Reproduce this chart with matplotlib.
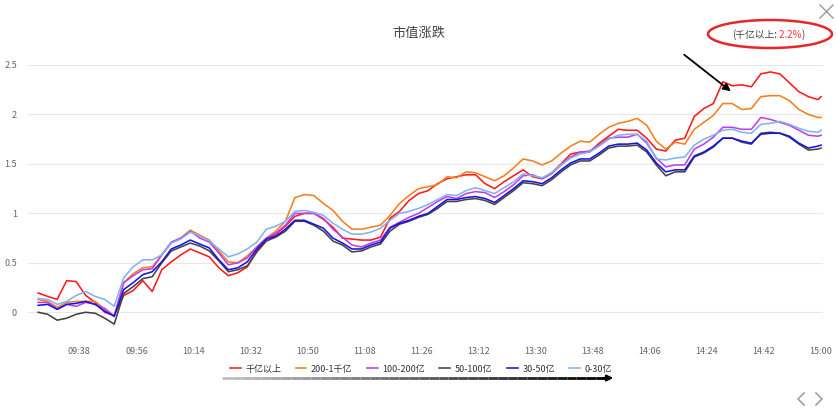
import numpy as np
import matplotlib
matplotlib.use('Agg')
from matplotlib import pyplot as plt
from matplotlib.patches import Ellipse, FancyArrowPatch
from matplotlib.lines import Line2D
from matplotlib.collections import LineCollection

plt.rcParams['font.family'] = ['Noto Sans CJK SC', 'DejaVu Sans']

# minute slots on the category axis, sampled every 3 minutes
n_minutes = 248
sample_idx = list(range(0, n_minutes - 1, 3)) + [n_minutes - 1]

tick_labels = ['09:38', '09:56', '10:14', '10:32', '10:50', '11:08', '11:26',
               '13:12', '13:30', '13:48', '14:06', '14:24', '14:42', '15:00']
first_tick = 13
tick_step = 18

series_names = ['千亿以上', '200-1千亿', '100-200亿', '50-100亿', '30-50亿', '0-30亿']
series_colors = ['#ff1a1a', '#f57f20', '#c03ee8', '#444444', '#1414e6', '#80b4ee']

big = [0.195, 0.16, 0.13, 0.32, 0.31, 0.17, 0.10, 0.00, -0.03, 0.17,
       0.22, 0.32, 0.21, 0.43, 0.51, 0.58, 0.64, 0.60, 0.56, 0.45,
       0.37, 0.40, 0.46, 0.62, 0.74, 0.79, 0.87, 0.97, 1.00, 1.00,
       0.94, 0.86, 0.75, 0.74, 0.73, 0.73, 0.76, 0.95, 1.02, 1.13,
       1.20, 1.23, 1.30, 1.35, 1.37, 1.39, 1.39, 1.30, 1.25, 1.32,
       1.38, 1.44, 1.37, 1.35, 1.41, 1.50, 1.60, 1.62, 1.62, 1.71,
       1.78, 1.85, 1.84, 1.84, 1.76, 1.65, 1.63, 1.74, 1.76, 1.98,
       2.06, 2.11, 2.33, 2.29, 2.30, 2.28, 2.41, 2.43, 2.41, 2.32,
       2.23, 2.18, 2.15, 2.18]

cap_200_1000 = [0.13, 0.11, 0.05, 0.10, 0.11, 0.11, 0.11, 0.03, -0.04, 0.30,
                0.39, 0.45, 0.46, 0.58, 0.70, 0.75, 0.83, 0.78, 0.73, 0.62,
                0.51, 0.50, 0.57, 0.66, 0.75, 0.82, 0.92, 1.16, 1.19, 1.18,
                1.10, 1.03, 0.92, 0.84, 0.84, 0.86, 0.88, 0.98, 1.10, 1.18,
                1.25, 1.27, 1.29, 1.37, 1.36, 1.42, 1.41, 1.37, 1.33, 1.38,
                1.46, 1.55, 1.53, 1.49, 1.53, 1.61, 1.68, 1.73, 1.72, 1.80,
                1.87, 1.91, 1.93, 1.96, 1.89, 1.73, 1.65, 1.72, 1.70, 1.85,
                1.92, 1.99, 2.11, 2.11, 2.05, 2.06, 2.18, 2.19, 2.19, 2.14,
                2.05, 2.00, 1.97, 1.97]

cap_100_200 = [0.10, 0.10, 0.03, 0.08, 0.06, 0.10, 0.08, 0.04, -0.04, 0.30,
               0.37, 0.43, 0.44, 0.58, 0.71, 0.75, 0.82, 0.75, 0.71, 0.60,
               0.48, 0.50, 0.55, 0.66, 0.75, 0.80, 0.88, 1.00, 1.00, 1.00,
               0.95, 0.84, 0.76, 0.68, 0.66, 0.70, 0.73, 0.86, 0.91, 0.96,
               1.00, 1.06, 1.12, 1.17, 1.15, 1.20, 1.22, 1.21, 1.16, 1.22,
               1.29, 1.38, 1.39, 1.35, 1.40, 1.49, 1.57, 1.62, 1.63, 1.69,
               1.76, 1.77, 1.77, 1.80, 1.71, 1.56, 1.47, 1.49, 1.49, 1.65,
               1.70, 1.77, 1.87, 1.87, 1.85, 1.85, 1.97, 1.95, 1.92, 1.89,
               1.84, 1.79, 1.78, 1.79]

cap_50_100 = [0.00, -0.02, -0.08, -0.06, -0.02, 0.00, -0.01, -0.06, -0.12, 0.19,
              0.26, 0.34, 0.36, 0.50, 0.62, 0.66, 0.70, 0.67, 0.62, 0.52,
              0.41, 0.43, 0.47, 0.61, 0.72, 0.76, 0.82, 0.92, 0.92, 0.88,
              0.82, 0.72, 0.68, 0.61, 0.62, 0.66, 0.69, 0.82, 0.89, 0.92,
              0.96, 0.99, 1.05, 1.12, 1.12, 1.14, 1.15, 1.13, 1.09, 1.16,
              1.23, 1.31, 1.30, 1.28, 1.34, 1.42, 1.49, 1.53, 1.53, 1.59,
              1.66, 1.68, 1.68, 1.69, 1.62, 1.49, 1.38, 1.42, 1.42, 1.57,
              1.61, 1.67, 1.76, 1.76, 1.72, 1.70, 1.81, 1.82, 1.81, 1.77,
              1.70, 1.64, 1.65, 1.66]

cap_30_50 = [0.07, 0.08, 0.03, 0.08, 0.09, 0.11, 0.08, 0.01, -0.04, 0.23,
             0.30, 0.38, 0.41, 0.51, 0.64, 0.68, 0.73, 0.69, 0.65, 0.53,
             0.43, 0.45, 0.51, 0.64, 0.74, 0.77, 0.84, 0.93, 0.93, 0.89,
             0.85, 0.75, 0.70, 0.64, 0.64, 0.68, 0.71, 0.85, 0.90, 0.93,
             0.97, 1.00, 1.07, 1.14, 1.14, 1.16, 1.17, 1.15, 1.11, 1.18,
             1.25, 1.33, 1.32, 1.30, 1.36, 1.44, 1.51, 1.55, 1.55, 1.61,
             1.68, 1.70, 1.70, 1.71, 1.64, 1.51, 1.42, 1.44, 1.44, 1.58,
             1.62, 1.68, 1.76, 1.76, 1.73, 1.71, 1.80, 1.81, 1.81, 1.78,
             1.71, 1.66, 1.68, 1.69]

cap_0_30 = [0.14, 0.13, 0.08, 0.11, 0.17, 0.21, 0.16, 0.13, 0.06, 0.35,
            0.46, 0.53, 0.53, 0.58, 0.70, 0.74, 0.81, 0.77, 0.72, 0.64,
            0.56, 0.59, 0.64, 0.71, 0.84, 0.87, 0.92, 1.02, 1.03, 1.01,
            0.98, 0.90, 0.84, 0.79, 0.79, 0.81, 0.85, 0.93, 1.00, 1.02,
            1.05, 1.09, 1.14, 1.19, 1.18, 1.23, 1.26, 1.23, 1.20, 1.26,
            1.32, 1.40, 1.38, 1.36, 1.41, 1.49, 1.56, 1.60, 1.62, 1.68,
            1.75, 1.79, 1.80, 1.80, 1.73, 1.55, 1.54, 1.56, 1.57, 1.69,
            1.75, 1.79, 1.84, 1.85, 1.82, 1.81, 1.90, 1.91, 1.93, 1.90,
            1.86, 1.83, 1.82, 1.84]

all_series = [big, cap_200_1000, cap_100_200, cap_50_100, cap_30_50, cap_0_30]

W, H = 837, 411


def fx(px):
    return px / W


def fy(py):
    return 1 - py / H


fig = plt.figure(figsize=(W / 100, H / 100), dpi=100)
ax = fig.add_axes([fx(28), fy(337), fx(823) - fx(28), fy(65) - fy(337)])

for name, vals, col in zip(series_names, all_series, series_colors):
    ax.plot(sample_idx, vals, color=col, lw=1.15, label=name, solid_joinstyle='round')

ax.set_xlim(-3.2, n_minutes - 1 + 0.6)
ax.set_ylim(-0.25, 2.5)
ax.set_yticks([0, 0.5, 1, 1.5, 2, 2.5])
ax.set_yticklabels(['0', '0.5', '1', '1.5', '2', '2.5'])
ax.set_xticks([first_tick + tick_step * k for k in range(len(tick_labels))])
ax.set_xticklabels(tick_labels)
ax.tick_params(axis='both', length=0, labelsize=6.5, labelcolor='#666666')
ax.tick_params(axis='y', pad=8)
ax.tick_params(axis='x', pad=7)
ax.grid(axis='y', color='#e8e8e8', lw=0.8)
ax.set_axisbelow(True)
for s in ax.spines.values():
    s.set_visible(False)

fig.text(fx(419), fy(33), '市值涨跌', ha='center', va='center', fontsize=9.5, color='#444444')

# annotation with the red ellipse
t1 = fig.text(fx(732), fy(35), '(千亿以上:', ha='left', va='center', fontsize=7, color='#444444')
t2 = ax.annotate(' 2.2%', xy=(1, 0), xycoords=t1, ha='left', va='bottom', fontsize=7, color='#ff3333')
ax.annotate(')', xy=(1, 0), xycoords=t2, ha='left', va='bottom', fontsize=7, color='#444444')
fig.add_artist(Ellipse((fx(770), fy(34)), 124 / W, 28 / H, transform=fig.transFigure,
                       fill=False, ec='#e8262a', lw=1.8))

fig.add_artist(FancyArrowPatch((fx(682), fy(53)), (fx(733), fy(93)), transform=fig.transFigure,
                               arrowstyle='-|>', mutation_scale=11, color='black', lw=1.3))

# legend
leg = fig.legend(loc='center', bbox_to_anchor=(fx(421), fy(369)), ncol=6, frameon=False,
                 fontsize=6.5, handlelength=1.2, handletextpad=0.5, columnspacing=1.6,
                 borderaxespad=0)
for txt in leg.get_texts():
    txt.set_color('#333333')

# gradient arrow under the legend
xs = np.linspace(222, 606, 40)
segs = [[(fx(xs[i]), fy(378)), (fx(xs[i + 1]), fy(378))] for i in range(len(xs) - 1)]
shade = np.linspace(0.75, 0.0, len(segs))
lc = LineCollection(segs, colors=[(g, g, g) for g in shade], linewidths=2.0, transform=fig.transFigure)
fig.add_artist(lc)
fig.add_artist(FancyArrowPatch((fx(600), fy(378)), (fx(616), fy(378)), transform=fig.transFigure,
                               arrowstyle='-|>', mutation_scale=9, color='black', lw=1.5))

# close cross and nav chevrons
fig.add_artist(Line2D([fx(820), fx(833)], [fy(5), fy(18)], color='#999999', lw=1, transform=fig.transFigure))
fig.add_artist(Line2D([fx(820), fx(833)], [fy(18), fy(5)], color='#999999', lw=1, transform=fig.transFigure))
fig.add_artist(Line2D([fx(804), fx(798), fx(804)], [fy(393), fy(399), fy(405)], color='#999999', lw=1.1,
                      transform=fig.transFigure))
fig.add_artist(Line2D([fx(816), fx(822), fx(816)], [fy(393), fy(399), fy(405)], color='#999999', lw=1.1,
                      transform=fig.transFigure))

plt.savefig('out.png', dpi=100)
